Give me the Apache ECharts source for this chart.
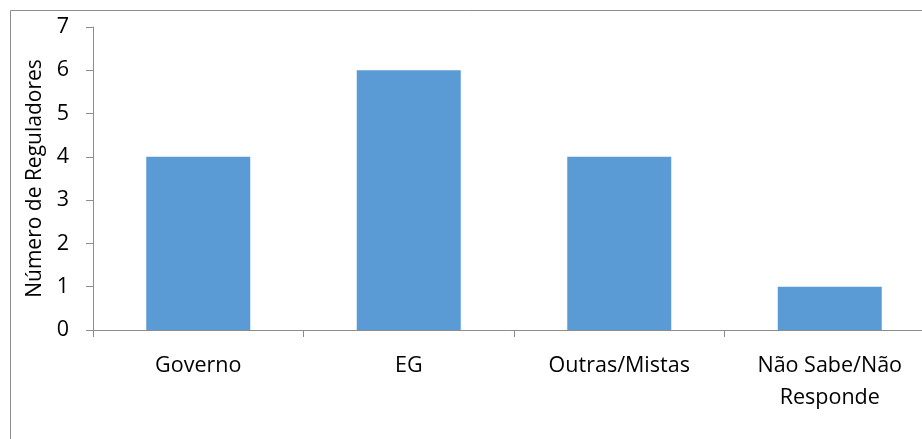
<!DOCTYPE html>
<html><head><meta charset="utf-8">
<script src="https://cdn.jsdelivr.net/npm/echarts@6/dist/echarts.min.js"></script>
<style>html,body{margin:0;padding:0;background:#fff}#c{width:922px;height:439px}</style>
</head><body><div id="c"></div>
<script>
const categories = ['Governo', 'EG', 'Outras/Mistas', 'Não Sabe/Não\nResponde'];
const values = [4, 6, 4, 1];
const yTicks = [0, 1, 2, 3, 4, 5, 6, 7];
const yName = 'Número de Reguladores';

const chart = echarts.init(document.getElementById('c'));
const font = '"Open Sans", "Noto Sans", sans-serif';
chart.setOption({
  animation: false,
  graphic: [{
    type: 'rect', shape: {x: 10.5, y: 10.5, width: 940, height: 460},
    style: {fill: 'none', stroke: '#8c8c8c', lineWidth: 1}, silent: true
  }],
  grid: {left: 93, top: 27, width: 842, height: 303, outerBoundsMode: 'none', containLabel: false},
  xAxis: {
    type: 'category', data: categories,
    axisLine: {lineStyle: {color: '#8c8c8c'}},
    axisTick: {show: true, length: 7, lineStyle: {color: '#8c8c8c'}},
    axisLabel: {color: '#000', fontSize: 21.5, fontFamily: font, margin: 20, lineHeight: 32, interval: 0}
  },
  yAxis: {
    type: 'value', min: yTicks[0], max: yTicks[yTicks.length - 1], interval: 1,
    name: yName, nameLocation: 'middle', nameGap: 47, nameRotate: 90,
    nameTextStyle: {color: '#000', fontSize: 21, fontFamily: font},
    axisLine: {show: true, lineStyle: {color: '#8c8c8c'}},
    axisTick: {show: true, length: 7, lineStyle: {color: '#8c8c8c'}},
    splitLine: {show: false},
    axisLabel: {color: '#000', fontSize: 21.5, fontFamily: font, margin: 24}
  },
  series: [{
    type: 'bar', data: values, barWidth: 104,
    itemStyle: {color: '#5b9bd5'}
  }]
});
</script></body></html>
